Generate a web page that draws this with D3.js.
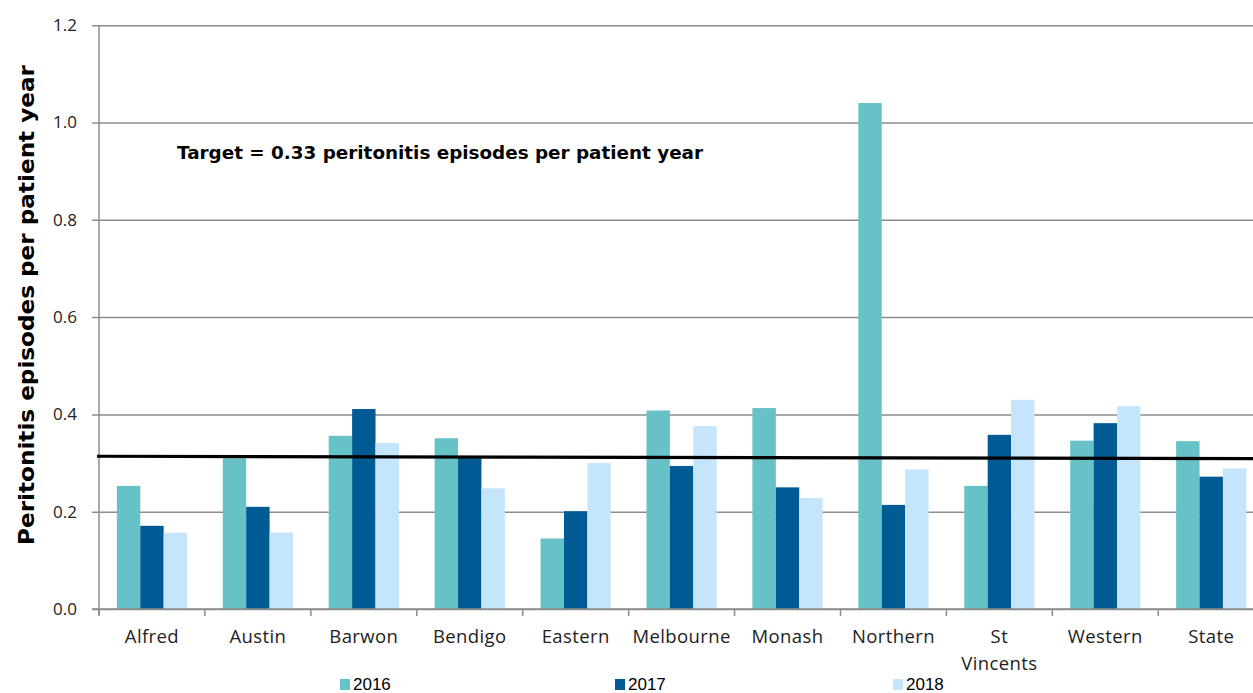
<!DOCTYPE html>
<html>
<head>
<meta charset="utf-8">
<script src="https://cdn.jsdelivr.net/npm/d3@7"></script>
<style>
  html, body { margin: 0; padding: 0; background: #fff; }
  svg { display: block; }
</style>
</head>
<body>
<svg id="chart" width="1253" height="693"></svg>
<script>
const categories = ["Alfred", "Austin", "Barwon", "Bendigo", "Eastern", "Melbourne", "Monash", "Northern", "St Vincents", "Western", "State"];
const years = ["2016", "2017", "2018"];
const values2016 = [0.253, 0.310, 0.356, 0.351, 0.145, 0.408, 0.413, 1.040, 0.253, 0.346, 0.345];
const values2017 = [0.171, 0.210, 0.411, 0.310, 0.201, 0.294, 0.250, 0.214, 0.358, 0.382, 0.272];
const values2018 = [0.157, 0.157, 0.341, 0.248, 0.300, 0.376, 0.228, 0.287, 0.430, 0.417, 0.289];
const yTicks = [0, 0.2, 0.4, 0.6, 0.8, 1.0, 1.2];
// the target line as drawn (slightly sloped in the original)
const targetLine = [0.314, 0.309];
const targetLabel = "Target = 0.33 peritonitis episodes per patient year";
const yTitle = "Peritonitis episodes per patient year";

const colors = { "2016": "#67C2C7", "2017": "#005A93", "2018": "#C4E5FC" };
const series = { "2016": values2016, "2017": values2017, "2018": values2018 };

const svg = d3.select("#chart");
const W = 1253;
const plotLeft = 99, plotRight = 1264.2, plotTop = 25.2, plotBottom = 609;
const grid = "#8c8c8c";

const x0 = d3.scaleBand().domain(categories).range([plotLeft, plotRight]).paddingInner(0).paddingOuter(0);
const x1 = d3.scaleBand().domain(years).range([0, x0.bandwidth()]).paddingInner(0).paddingOuter(0.763);
const y = d3.scaleLinear().domain([0, 1.2]).range([plotBottom, plotTop]);

// gridlines + y tick labels
const yAxis = svg.append("g")
  .attr("transform", `translate(92,0)`)
  .call(d3.axisLeft(y).tickValues(yTicks).tickFormat(d3.format(".1f")).tickSize(-(W - 92)).tickPadding(15));
yAxis.select(".domain").remove();
yAxis.selectAll(".tick line").attr("stroke", grid).attr("stroke-width", 1.5);
yAxis.selectAll(".tick text")
  .attr("fill", "#222")
  .style("font-family", "'Open Sans', sans-serif")
  .style("font-size", "17px");

// vertical axis line
svg.append("line")
  .attr("x1", plotLeft).attr("x2", plotLeft).attr("y1", plotTop).attr("y2", plotBottom + 6)
  .attr("stroke", grid).attr("stroke-width", 1.5);

// bars
const groups = svg.append("g").selectAll("g")
  .data(categories)
  .join("g")
  .attr("transform", d => `translate(${x0(d)},0)`);

groups.selectAll("rect")
  .data((c, i) => years.map(yr => ({ yr, v: series[yr][i] })))
  .join("rect")
  .attr("x", d => x1(d.yr))
  .attr("width", x1.bandwidth())
  .attr("y", d => y(d.v))
  .attr("height", d => plotBottom - y(d.v))
  .attr("fill", d => colors[d.yr]);

// x axis line and ticks at band boundaries
svg.append("line")
  .attr("x1", 92).attr("x2", W).attr("y1", plotBottom).attr("y2", plotBottom)
  .attr("stroke", grid).attr("stroke-width", 1.5);
svg.append("g").selectAll("line")
  .data(categories)
  .join("line")
  .attr("x1", d => x0(d)).attr("x2", d => x0(d))
  .attr("y1", plotBottom).attr("y2", plotBottom + 7)
  .attr("stroke", grid).attr("stroke-width", 1.5);

// category labels
svg.append("g").selectAll("text")
  .data(categories)
  .join("text")
  .attr("x", d => x0(d) + x0.bandwidth() / 2)
  .attr("y", 643)
  .attr("text-anchor", "middle")
  .attr("fill", "#222")
  .style("font-family", "'Open Sans', sans-serif")
  .style("font-size", "18.5px")
  .style("letter-spacing", "0.4px")
  .each(function (d) {
    const parts = d === "St Vincents" ? ["St", "Vincents"] : [d];
    d3.select(this).selectAll("tspan")
      .data(parts)
      .join("tspan")
      .attr("x", x0(d) + x0.bandwidth() / 2)
      .attr("dy", (p, i) => i === 0 ? 0 : 26.5)
      .text(p => p);
  });

// target line
svg.append("line")
  .attr("x1", 97).attr("x2", W)
  .attr("y1", y(targetLine[0])).attr("y2", y(targetLine[1]))
  .attr("stroke", "#000").attr("stroke-width", 3.2);

svg.append("text")
  .attr("x", 177).attr("y", 159)
  .attr("fill", "#000")
  .style("font-family", "'DejaVu Sans', sans-serif")
  .style("font-weight", "bold")
  .style("font-size", "18px")
  .attr("textLength", 526)
  .attr("lengthAdjust", "spacingAndGlyphs")
  .text(targetLabel);

// y title
svg.append("text")
  .attr("transform", "translate(34,305) rotate(-90)")
  .attr("text-anchor", "middle")
  .attr("fill", "#000")
  .style("font-family", "'DejaVu Sans', sans-serif")
  .style("font-weight", "bold")
  .style("font-size", "22px")
  .attr("textLength", 480)
  .attr("lengthAdjust", "spacingAndGlyphs")
  .text(yTitle);

// legend
const legendX = [340, 615, 893];
const legend = svg.append("g").selectAll("g")
  .data(years)
  .join("g")
  .attr("transform", (d, i) => `translate(${legendX[i]},0)`);
legend.append("rect")
  .attr("x", 0).attr("y", 679).attr("width", 10).attr("height", 11)
  .attr("fill", d => colors[d]);
legend.append("text")
  .attr("x", 13).attr("y", 690)
  .attr("fill", "#000")
  .style("font-family", "'Liberation Sans', sans-serif")
  .style("font-size", "17px")
  .text(d => d);
</script>
</body>
</html>
